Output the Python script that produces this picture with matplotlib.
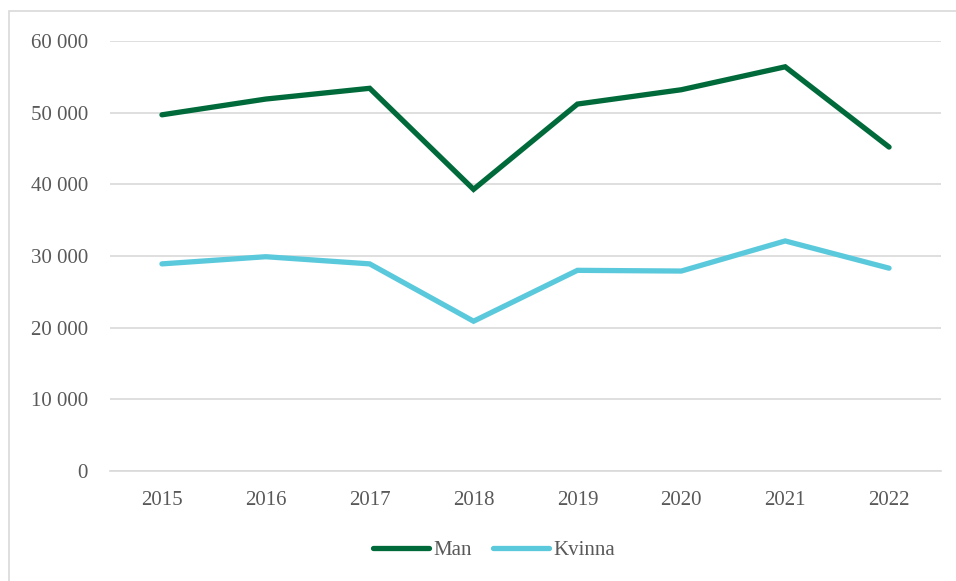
import matplotlib.pyplot as plt
from matplotlib.patches import Rectangle
from matplotlib.ticker import FuncFormatter

years = ['2015', '2016', '2017', '2018', '2019', '2020', '2021', '2022']
man = [49700, 51900, 53400, 39300, 51200, 53200, 56400, 45200]
kvinna = [28900, 29900, 28900, 20900, 28000, 27900, 32100, 28300]

plt.rcParams['font.family'] = ['Liberation Serif', 'DejaVu Serif']

fig = plt.figure(figsize=(9.56, 5.81), dpi=100)
ax = fig.add_axes([110/956, 1 - 471/581, 831/956, 430/581])

# ram runt diagrammet (som i Excel)
fig.patches.append(Rectangle((9/956, -0.05), 1.1, 1 - 11/581 + 0.05,
                             transform=fig.transFigure, fill=False,
                             edgecolor='#D9D9D9', linewidth=1.2))

x = range(len(years))
ax.plot(x, man, color='#006A3B', linewidth=3.8, solid_capstyle='round',
        solid_joinstyle='miter', label='Man')
ax.plot(x, kvinna, color='#5BC9DC', linewidth=3.8, solid_capstyle='round',
        solid_joinstyle='miter', label='Kvinna')

ax.set_xlim(-0.5, len(years) - 0.5)
ax.set_ylim(0, 60000)
ax.set_yticks(range(0, 60001, 10000))
ax.yaxis.set_major_formatter(FuncFormatter(lambda v, p: f'{int(v):,}'.replace(',', ' ')))
ax.set_xticks(list(x))
ax.set_xticklabels(years)

ax.grid(axis='y', color='#D9D9D9', linewidth=1.2)
ax.set_axisbelow(True)
for s in ['top', 'right', 'left']:
    ax.spines[s].set_visible(False)
ax.spines['bottom'].set_color('#D9D9D9')
ax.spines['bottom'].set_linewidth(1.2)
ax.tick_params(axis='both', length=0, labelsize=15, labelcolor='#595959')
ax.tick_params(axis='y', pad=16)
ax.tick_params(axis='x', pad=14.5)

leg = ax.legend(loc='center', bbox_to_anchor=(0.462, -0.184), ncol=2, frameon=False,
                fontsize=15, handlelength=2.7, columnspacing=1.0, handletextpad=0.2)
for t in leg.get_texts():
    t.set_color('#595959')

fig.savefig('out.png', dpi=100)
